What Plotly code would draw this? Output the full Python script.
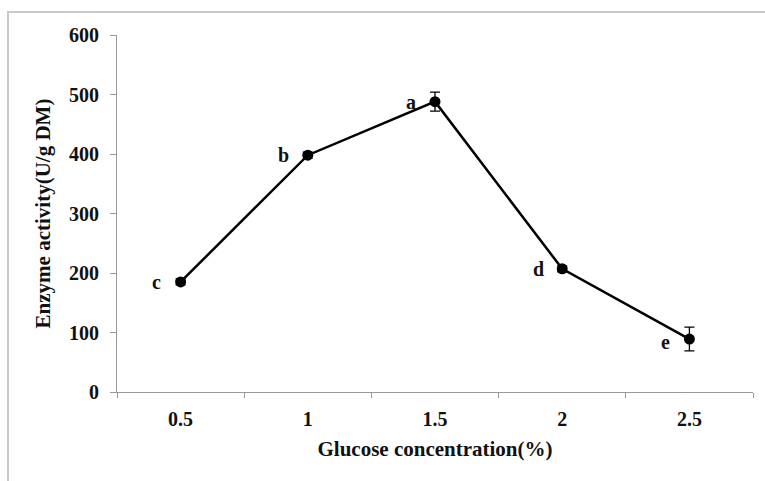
import plotly.graph_objects as go

categories = ["0.5", "1", "1.5", "2", "2.5"]
activity = [185, 398, 488, 207, 89]
errors = [5, 5, 16, 5, 20]
letters = ["c", "b", "a", "d", "e"]
y_ticks = [0, 100, 200, 300, 400, 500, 600]

FONT = "Liberation Serif"
FS = 20

fig = go.Figure()
fig.add_trace(go.Scatter(
    x=categories, y=activity,
    mode="lines+markers",
    line=dict(color="black", width=2.5),
    marker=dict(color="black", size=11),
    error_y=dict(type="data", array=errors, visible=True, color="black", thickness=1.3, width=5),
    showlegend=False,
))

for i, (v, l) in enumerate(zip(activity, letters)):
    fig.add_annotation(x=i, y=v, text=f"<b>{l}</b>", showarrow=False,
                       xshift=-24, yshift=(-3 if l == "e" else 0),
                       font=dict(family=FONT, size=FS, color="#111"))

# light gray outer frame
L, R, T, B = 117, 12, 35, 89
W, H = 765, 481
pw, ph = W - L - R, H - T - B
def px(x):
    return (x - L) / pw
def py(y):
    return (H - B - y) / ph
fig.add_shape(type="rect", xref="paper", yref="paper",
              x0=px(8), x1=px(768), y0=py(484), y1=py(12),
              line=dict(color="#c8c8c8", width=2), fillcolor="rgba(0,0,0,0)", layer="below")

fig.update_layout(
    width=W, height=H,
    margin=dict(l=L, r=R, t=T, b=B),
    paper_bgcolor="white", plot_bgcolor="white",
    font=dict(family=FONT, color="#111"),
    xaxis=dict(
        type="category", range=[-0.5, 4.5], tickson="boundaries", ticks="outside", ticklen=5,
        tickcolor="#999", showline=True, linecolor="#999", linewidth=1,
        showgrid=False, zeroline=False,
        tickfont=dict(family=FONT, size=FS, color="#111", weight="bold"),
        ticklabelstandoff=9,
        title=dict(text="<b>Glucose concentration(%)</b>", font=dict(family=FONT, size=21, color="#111"), standoff=12),
    ),
    yaxis=dict(
        range=[0, 600], tickvals=y_ticks, ticks="outside", ticklen=6,
        tickcolor="#999", showline=True, linecolor="#999", linewidth=1,
        showgrid=False, zeroline=False,
        tickfont=dict(family=FONT, size=FS, color="#111", weight="bold"),
        ticklabelstandoff=7,
        title=dict(text="<b>Enzyme activity(U/g DM)</b>", font=dict(family=FONT, size=21, color="#111"), standoff=12),
    ),
)

fig.write_html("out.html")
